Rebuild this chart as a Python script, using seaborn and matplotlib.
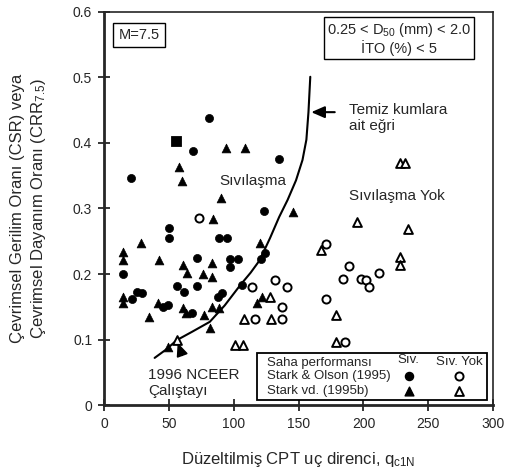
import matplotlib
matplotlib.use("Agg")
import matplotlib.pyplot as plt
from matplotlib.patches import Rectangle
import seaborn as sns
import pandas as pd

# Stark & Olson (1995) - liquefied (filled circles)
so_liq_q = [80.8, 68.5, 20.8, 134.6, 123, 50, 50, 89, 95, 71.5, 97, 103, 97, 124, 121,
            106, 56, 62, 71.5, 25.4, 29, 21.5, 14.6, 45.5, 49, 67.7, 88, 91]
so_liq_csr = [0.438, 0.388, 0.347, 0.375, 0.296, 0.255, 0.27, 0.255, 0.255, 0.224, 0.223,
              0.223, 0.211, 0.232, 0.223, 0.183, 0.182, 0.173, 0.182, 0.173, 0.171, 0.162,
              0.2, 0.15, 0.153, 0.14, 0.165, 0.171]

# Stark et al. (1995b) - liquefied (filled triangles)
sv_liq_q = [93.8, 108.4, 57.7, 60, 90, 83.8, 28.5, 120, 146, 14.6, 14.6, 42.3, 61, 64, 83,
            76, 83, 14.6, 14.6, 41.5, 34.6, 61, 63, 77, 83, 88.5, 82, 49, 121.5, 118]
sv_liq_csr = [0.392, 0.392, 0.364, 0.342, 0.316, 0.284, 0.247, 0.247, 0.295, 0.234, 0.221,
              0.221, 0.214, 0.201, 0.217, 0.2, 0.196, 0.165, 0.156, 0.156, 0.134, 0.148,
              0.14, 0.137, 0.15, 0.148, 0.118, 0.089, 0.165, 0.156]

# Stark & Olson (1995) - no liquefaction (open circles)
so_no_q = [73, 171, 189, 184.6, 198, 202, 204, 212, 171, 186, 114, 131.5, 140.7, 137, 116, 137]
so_no_csr = [0.285, 0.246, 0.212, 0.192, 0.192, 0.191, 0.18, 0.202, 0.162, 0.096, 0.18,
             0.191, 0.18, 0.15, 0.131, 0.131]

# Stark et al. (1995b) - no liquefaction (open triangles)
sv_no_q = [228, 232, 195, 234.5, 167, 228, 228, 179, 179, 128, 108, 129, 101, 107, 56]
sv_no_csr = [0.369, 0.369, 0.28, 0.268, 0.237, 0.226, 0.214, 0.137, 0.096, 0.165, 0.131,
             0.131, 0.092, 0.092, 0.099]

# single filled square
sq_q = [55.4]
sq_csr = [0.403]

# clean sand boundary curve
curve_q = [39, 48, 56, 68, 81.5, 93, 105, 113, 120, 128, 135, 141.5, 148, 153, 156, 157.6, 159]
curve_csr = [0.072, 0.085, 0.099, 0.112, 0.127, 0.152, 0.183, 0.202, 0.221, 0.255, 0.287,
             0.313, 0.343, 0.374, 0.405, 0.447, 0.501]

x_ticks = [0, 50, 100, 150, 200, 250, 300]
y_ticks = [0, 0.1, 0.2, 0.3, 0.4, 0.5, 0.6]
y_tick_labels = ["0", "0.1", "0.2", "0.3", "0.4", "0.5", "0.6"]

sns.set_style("ticks")
plt.rcParams["font.family"] = ["Liberation Sans", "DejaVu Sans"]
plt.rcParams["mathtext.fontset"] = "custom"
plt.rcParams["mathtext.rm"] = "Liberation Sans"
plt.rcParams["mathtext.it"] = "Liberation Sans:italic"

fig, ax = plt.subplots(figsize=(5.1, 4.76), dpi=100)
fig.subplots_adjust(left=0.204, right=0.967, top=0.975, bottom=0.149)

sns.lineplot(x=curve_q, y=curve_csr, sort=False, color="black", linewidth=1.5, ax=ax)

df_so_liq = pd.DataFrame({"q": so_liq_q, "csr": so_liq_csr})
df_sv_liq = pd.DataFrame({"q": sv_liq_q, "csr": sv_liq_csr})
df_so_no = pd.DataFrame({"q": so_no_q, "csr": so_no_csr})
df_sv_no = pd.DataFrame({"q": sv_no_q, "csr": sv_no_csr})
df_sq = pd.DataFrame({"q": sq_q, "csr": sq_csr})

sns.scatterplot(data=df_so_liq, x="q", y="csr", marker="o", s=34, color="black",
                edgecolor="black", linewidth=0.5, ax=ax, zorder=3)
sns.scatterplot(data=df_sv_liq, x="q", y="csr", marker="^", s=40, color="black",
                edgecolor="black", linewidth=0.5, ax=ax, zorder=3)
sns.scatterplot(data=df_so_no, x="q", y="csr", marker="o", s=34, facecolor="white",
                edgecolor="black", linewidth=1.4, ax=ax, zorder=3)
sns.scatterplot(data=df_sv_no, x="q", y="csr", marker="^", s=40, facecolor="white",
                edgecolor="black", linewidth=1.4, ax=ax, zorder=3)
sns.scatterplot(data=df_sq, x="q", y="csr", marker="s", s=55, color="black",
                edgecolor="black", ax=ax, zorder=3)

ax.set_xlim(0, 300)
ax.set_ylim(0, 0.6)
ax.set_xticks(x_ticks)
ax.set_yticks(y_ticks)
ax.set_yticklabels(y_tick_labels)
ax.tick_params(direction="inout", length=9, width=1.3, labelsize=10, pad=4)

for side in ["left", "bottom"]:
    ax.spines[side].set_linewidth(2)
for side in ["top", "right"]:
    ax.spines[side].set_visible(True)
    ax.spines[side].set_linewidth(1.2)

ax.set_xlabel(r"Düzeltilmiş CPT uç direnci, q$_{\mathrm{c1N}}$", fontsize=12, labelpad=14)
ax.set_ylabel("Çevrimsel Gerilim Oranı (CSR) veya\nÇevrimsel Dayanım Oranı (CRR$_{7.5}$)",
              fontsize=12, linespacing=1.3, labelpad=18)

# boxes
ax.text(27, 0.565, "M=7.5", ha="center", va="center", fontsize=10.5,
        bbox=dict(boxstyle="square,pad=0.35", facecolor="white", edgecolor="black", linewidth=1))
ax.text(227.6, 0.559, "0.25 < D$_{50}$ (mm) < 2.0\nİTO (%) < 5", ha="center", va="center",
        fontsize=10.5, linespacing=1.05,
        bbox=dict(boxstyle="square,pad=0.2", facecolor="white", edgecolor="black", linewidth=1))

# annotations
ax.text(89, 0.342, "Sıvılaşma", ha="left", va="center", fontsize=11)
ax.text(189, 0.319, "Sıvılaşma Yok", ha="left", va="center", fontsize=11)
ax.text(189, 0.438, "Temiz kumlara\nait eğri", ha="left", va="center", fontsize=11,
        linespacing=1.25)
ax.annotate("", xy=(157.6, 0.447), xytext=(180, 0.447),
            arrowprops=dict(arrowstyle="-|>,head_length=0.8,head_width=0.35", color="black",
                            linewidth=1.5))
ax.text(34, 0.034, "1996 NCEER\nÇalıştayı", ha="left", va="center", fontsize=11,
        linespacing=1.2)
ax.annotate("", xy=(56, 0.099), xytext=(61, 0.072),
            arrowprops=dict(arrowstyle="-|>,head_length=0.8,head_width=0.35", color="black",
                            linewidth=1.2))

# legend box
ax.add_patch(Rectangle((117.7, 0.008), 177.3, 0.071, facecolor="white", edgecolor="black",
                       linewidth=1.3, zorder=4))
ax.text(126, 0.064, "Saha performansı", ha="left", va="center", fontsize=9.5, zorder=5)
ax.text(235, 0.069, "Sıv.", ha="center", va="center", fontsize=9.5, zorder=5)
ax.text(274, 0.066, "Sıv. Yok", ha="center", va="center", fontsize=9.5, zorder=5)
ax.text(126, 0.044, "Stark & Olson (1995)", ha="left", va="center", fontsize=9.5, zorder=5)
ax.text(126, 0.021, "Stark vd. (1995b)", ha="left", va="center", fontsize=9.5, zorder=5)
ax.scatter([235], [0.045], marker="o", s=34, color="black", zorder=6)
ax.scatter([273.5], [0.045], marker="o", s=34, facecolor="white", edgecolor="black",
           linewidth=1.4, zorder=6)
ax.scatter([235], [0.022], marker="^", s=40, color="black", zorder=6)
ax.scatter([273.5], [0.022], marker="^", s=40, facecolor="white", edgecolor="black",
           linewidth=1.4, zorder=6)

fig.savefig("out.png", dpi=100)
